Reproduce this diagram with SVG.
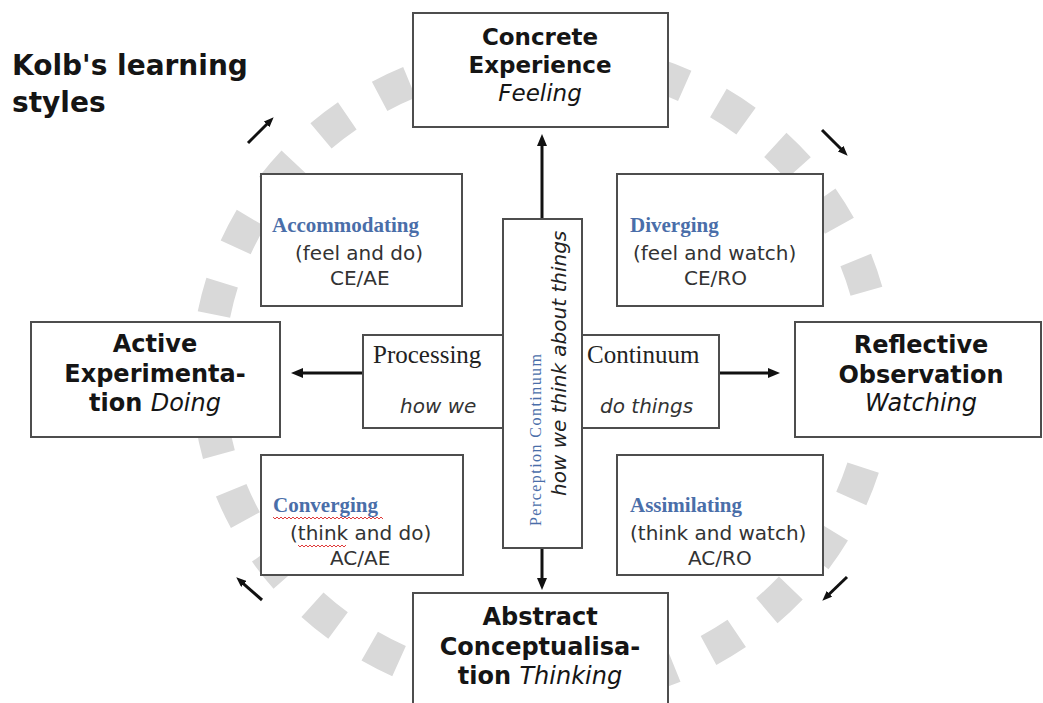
<svg xmlns="http://www.w3.org/2000/svg" width="1043" height="703" viewBox="0 0 1043 703">
  <style>
    .box { fill: #ffffff; stroke: #4d4d4d; stroke-width: 2; }
    .main { font-family: "DejaVu Sans", Verdana, sans-serif; font-weight: bold; fill: #151515; text-anchor: middle; }
    .it { font-style: italic; font-weight: normal; }
    .style { font-family: "Liberation Serif", "Times New Roman", serif; font-weight: bold; font-size: 21px; fill: #4a6ea9; }
    .sub { font-family: "DejaVu Sans", Verdana, sans-serif; font-size: 20px; fill: #333333; }
    .serif { font-family: "Liberation Serif", "Times New Roman", serif; font-size: 25px; fill: #222222; }
    .conn { stroke: #111111; stroke-width: 3; fill: none; }
    .cyc { stroke: #111111; stroke-width: 3; fill: none; }
    .squig { stroke: #e03a3a; stroke-width: 1; fill: none; }
  </style>
  <defs>
    <marker id="head" viewBox="0 0 12 10" markerWidth="12" markerHeight="10" refX="1" refY="5" orient="auto" markerUnits="userSpaceOnUse">
      <path d="M0,0 L12,5 L0,10 z" fill="#111111"/>
    </marker>
    <marker id="headSmall" viewBox="0 0 10 8" markerWidth="10" markerHeight="8" refX="1" refY="4" orient="auto" markerUnits="userSpaceOnUse">
      <path d="M0,0 L10,4 L0,8 z" fill="#111111"/>
    </marker>
  </defs>

  <rect width="1043" height="703" fill="#ffffff"/>

  <!-- dashed cycle ring behind everything: 29 square dashes -->
  <path id="ring" d="M878,374 A335,318 0 0 1 208,374 A335,318 0 0 1 878,374 Z" pathLength="2900"
        fill="none" stroke="#d9d9d9" stroke-width="33" stroke-dasharray="46.6 53.4" stroke-dashoffset="65.3"/>

  <!-- title -->
  <g id="title" font-family="DejaVu Sans, Verdana, sans-serif" font-weight="bold" font-size="28" fill="#151515">
    <text x="12" y="75">Kolb's learning</text>
    <text x="12" y="112">styles</text>
  </g>

  <!-- connectors -->
  <g id="connectors">
    <line class="conn" x1="542" y1="219" x2="542" y2="145" marker-end="url(#head)"/>
    <line class="conn" x1="542" y1="548" x2="542" y2="579" marker-end="url(#head)"/>
    <line class="conn" x1="363" y1="373" x2="302" y2="373" marker-end="url(#head)"/>
    <line class="conn" x1="719" y1="373" x2="769" y2="373" marker-end="url(#head)"/>
    <!-- cycle direction arrows -->
    <line class="cyc" x1="248" y1="143" x2="267.3" y2="123.7" marker-end="url(#headSmall)"/>
    <line class="cyc" x1="822" y1="130" x2="841.3" y2="149.3" marker-end="url(#headSmall)"/>
    <line class="cyc" x1="847" y1="577" x2="828.8" y2="594.5" marker-end="url(#headSmall)"/>
    <line class="cyc" x1="262" y1="600" x2="243" y2="583.3" marker-end="url(#headSmall)"/>
  </g>

  <!-- four stages -->
  <g id="concrete-experience">
    <rect class="box" x="413" y="13" width="255" height="114"/>
    <text class="main" x="540" y="45" font-size="23">Concrete</text>
    <text class="main" x="540" y="73" font-size="23">Experience</text>
    <text class="main it" x="540" y="101" font-size="23">Feeling</text>
  </g>

  <g id="active-experimentation">
    <rect class="box" x="31" y="322" width="249" height="115"/>
    <text class="main" x="155" y="352" font-size="24">Active</text>
    <text class="main" x="155" y="382" font-size="24">Experimenta-</text>
    <text class="main" x="155" y="411" font-size="24">tion <tspan class="it">Doing</tspan></text>
  </g>

  <g id="reflective-observation">
    <rect class="box" x="795" y="322" width="246" height="115"/>
    <text class="main" x="921" y="353" font-size="24">Reflective</text>
    <text class="main" x="921" y="383" font-size="24">Observation</text>
    <text class="main it" x="921" y="411" font-size="24">Watching</text>
  </g>

  <g id="abstract-conceptualisation">
    <rect class="box" x="413" y="593" width="255" height="125"/>
    <text class="main" x="540" y="625" font-size="24">Abstract</text>
    <text class="main" x="540" y="655" font-size="24">Conceptualisa-</text>
    <text class="main" x="540" y="684" font-size="24">tion <tspan class="it">Thinking</tspan></text>
  </g>

  <!-- four learning styles -->
  <g id="accommodating">
    <rect class="box" x="261" y="174" width="201" height="132"/>
    <text class="style" x="272" y="232">Accommodating</text>
    <text class="sub" x="295" y="260">(feel and do)</text>
    <text class="sub" x="330" y="285">CE/AE</text>
  </g>

  <g id="diverging">
    <rect class="box" x="617" y="174" width="206" height="132"/>
    <text class="style" x="630" y="232">Diverging</text>
    <text class="sub" x="633" y="260">(feel and watch)</text>
    <text class="sub" x="684" y="285">CE/RO</text>
  </g>

  <g id="converging">
    <rect class="box" x="261" y="455" width="202" height="120"/>
    <text class="style" x="273" y="512">Converging</text>
    <path class="squig" d="M273,517 l2,2 l2,-2 l2,2 l2,-2 l2,2 l2,-2 l2,2 l2,-2 l2,2 l2,-2 l2,2 l2,-2 l2,2 l2,-2 l2,2 l2,-2 l2,2 l2,-2 l2,2 l2,-2 l2,2 l2,-2 l2,2 l2,-2 l2,2 l2,-2 l2,2 l2,-2 l2,2 l2,-2 l2,2 l2,-2 l2,2 l2,-2 l2,2 l2,-2 l2,2 l2,-2 l2,2 l2,-2 l2,2 l2,-2 l2,2 l2,-2 l2,2 l2,-2 l2,2 l2,-2 l2,2 l2,-2 l2,2 l2,-2 l2,2 l2,-2 l2,2"/>
    <text class="sub" x="290" y="540">(think and do)</text>
    <path class="squig" d="M298,545 l2,2 l2,-2 l2,2 l2,-2 l2,2 l2,-2 l2,2 l2,-2 l2,2 l2,-2 l2,2 l2,-2 l2,2 l2,-2 l2,2 l2,-2 l2,2 l2,-2 l2,2 l2,-2 l2,2 l2,-2 l2,2 l2,-2"/>
    <text class="sub" x="330" y="565">AC/AE</text>
  </g>

  <g id="assimilating">
    <rect class="box" x="617" y="455" width="206" height="120"/>
    <text class="style" x="630" y="512">Assimilating</text>
    <text class="sub" x="630" y="540">(think and watch)</text>
    <text class="sub" x="688" y="565">AC/RO</text>
  </g>

  <!-- processing continuum (horizontal bar) -->
  <g id="processing-continuum">
    <rect class="box" x="363" y="335" width="356" height="93"/>
    <text class="serif" x="373" y="363">Processing</text>
    <text class="serif" x="587" y="363">Continuum</text>
    <text class="sub it" x="400" y="413" fill="#222222">how we</text>
    <text class="sub it" x="600" y="413" fill="#222222">do things</text>
  </g>

  <!-- perception continuum (vertical bar) -->
  <g id="perception-continuum">
    <rect class="box" x="503" y="219" width="79" height="329"/>
    <text transform="translate(541,526) rotate(-90)" font-family="Liberation Serif, Times New Roman, serif" font-size="16" fill="#4a6ea9" textLength="172" lengthAdjust="spacing">Perception Continuum</text>
    <text transform="translate(566,496) rotate(-90)" font-family="DejaVu Sans, Verdana, sans-serif" font-style="italic" font-size="20" fill="#222222">how we think about things</text>
  </g>
</svg>
